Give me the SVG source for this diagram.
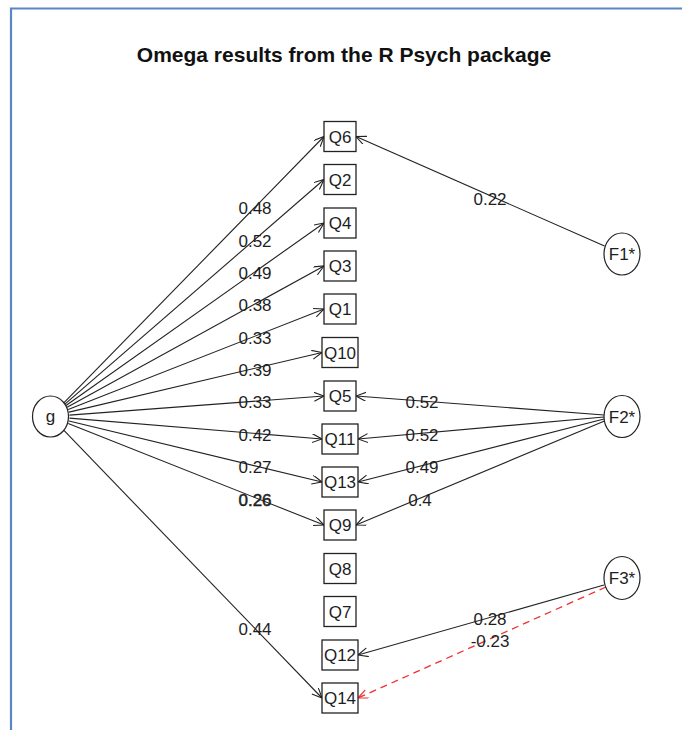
<svg xmlns="http://www.w3.org/2000/svg" width="682" height="730" viewBox="0 0 682 730">
<defs>
<style>
.t{font-family:"Liberation Sans",Arial,sans-serif;font-size:17px;fill:#1e1e1e;text-anchor:middle}
.title{font-family:"Liberation Sans",Arial,sans-serif;font-size:21px;font-weight:bold;fill:#111;text-anchor:middle}
.box{fill:#fff;stroke:#222;stroke-width:1.3}
.lat{fill:#fff;stroke:#222;stroke-width:1.2}
.ln{stroke:#222;stroke-width:1.1;fill:none;marker-end:url(#ah)}
.red{stroke:#f03030;stroke-width:1.3;fill:none;stroke-dasharray:7 5;marker-end:url(#ahr)}
</style>
<marker id="ah" markerUnits="userSpaceOnUse" markerWidth="12" markerHeight="10" refX="10" refY="4.5" orient="auto">
<path d="M0,0 L10,4.5 L0,9" fill="none" stroke="#222" stroke-width="1.1"/>
</marker>
<marker id="ahr" markerUnits="userSpaceOnUse" markerWidth="12" markerHeight="10" refX="10" refY="4.5" orient="auto">
<path d="M0,0 L10,4.5 L0,9" fill="none" stroke="#f03030" stroke-width="1.2"/>
</marker>
</defs>
<rect width="682" height="730" fill="#fff"/>
<g id="frame">
<path d="M11,730 V8.5 H682" fill="none" stroke="#5a86c6" stroke-width="2.2"/>
</g>
<text class="title" x="344" y="62">Omega results from the R Psych package</text>
<g id="connectors">
<line class="ln" x1="63.8" y1="402.9" x2="324" y2="136.5"/>
<line class="ln" x1="64.9" y1="404.1" x2="324" y2="179.5"/>
<line class="ln" x1="66" y1="405.5" x2="324" y2="223"/>
<line class="ln" x1="67.1" y1="407.3" x2="324" y2="266"/>
<line class="ln" x1="68.2" y1="409.5" x2="324" y2="309"/>
<line class="ln" x1="69" y1="412.1" x2="322" y2="352.5"/>
<line class="ln" x1="69.4" y1="415.1" x2="324" y2="396"/>
<line class="ln" x1="69.4" y1="418.1" x2="322" y2="439"/>
<line class="ln" x1="69" y1="421" x2="322" y2="482"/>
<line class="ln" x1="68.2" y1="423.5" x2="324" y2="525"/>
<line class="ln" x1="63.7" y1="430.2" x2="322" y2="698"/>
<line class="ln" x1="604.5" y1="246" x2="356" y2="136.5"/>
<line class="ln" x1="604" y1="415" x2="356" y2="396"/>
<line class="ln" x1="604" y1="417" x2="358" y2="439"/>
<line class="ln" x1="604" y1="419" x2="358" y2="482"/>
<line class="ln" x1="604.5" y1="421" x2="356" y2="525"/>
<line class="ln" x1="604" y1="585" x2="358" y2="655"/>
<line class="red" x1="606" y1="587" x2="358" y2="698"/>
<g id="labels">
<text class="t" x="255" y="214">0.48</text>
<text class="t" x="255" y="247">0.52</text>
<text class="t" x="255" y="279">0.49</text>
<text class="t" x="255" y="311">0.38</text>
<text class="t" x="255" y="344">0.33</text>
<text class="t" x="255" y="376">0.39</text>
<text class="t" x="255" y="408">0.33</text>
<text class="t" x="255" y="441">0.42</text>
<text class="t" x="255" y="473">0.27</text>
<text class="t" x="255" y="506" stroke="#1e1e1e" stroke-width="0.5">0.26</text>
<text class="t" x="255" y="635">0.44</text>
<text class="t" x="490" y="205">0.22</text>
<text class="t" x="422" y="408">0.52</text>
<text class="t" x="422" y="441">0.52</text>
<text class="t" x="422" y="473">0.49</text>
<text class="t" x="420" y="506">0.4</text>
<text class="t" x="490" y="625">0.28</text>
<text class="t" x="490" y="647">-0.23</text>
</g>
</g>
<g id="g"><ellipse class="lat" cx="50.5" cy="416.5" rx="18" ry="20.5"/><text class="t" x="50.5" y="422">g</text></g>
<g id="F1"><ellipse class="lat" cx="622" cy="254" rx="18" ry="21"/><text class="t" x="622" y="260">F1*</text></g>
<g id="F2"><ellipse class="lat" cx="622" cy="416.5" rx="18" ry="21"/><text class="t" x="622" y="422.5">F2*</text></g>
<g id="F3"><ellipse class="lat" cx="622" cy="578" rx="18" ry="21.5"/><text class="t" x="622" y="584">F3*</text></g>
<g id="Q6"><rect class="box" x="324" y="121.5" width="32" height="30"/><text class="t" x="340" y="142.5">Q6</text></g>
<g id="Q2"><rect class="box" x="324" y="164.5" width="32" height="30"/><text class="t" x="340" y="185.5">Q2</text></g>
<g id="Q4"><rect class="box" x="324" y="208" width="32" height="30"/><text class="t" x="340" y="229">Q4</text></g>
<g id="Q3"><rect class="box" x="324" y="251" width="32" height="30"/><text class="t" x="340" y="272">Q3</text></g>
<g id="Q1"><rect class="box" x="324" y="294" width="32" height="30"/><text class="t" x="340" y="315">Q1</text></g>
<g id="Q10"><rect class="box" x="322" y="337.5" width="36" height="30"/><text class="t" x="340" y="358.5">Q10</text></g>
<g id="Q5"><rect class="box" x="324" y="381" width="32" height="30"/><text class="t" x="340" y="402">Q5</text></g>
<g id="Q11"><rect class="box" x="322" y="424" width="36" height="30"/><text class="t" x="340" y="445">Q11</text></g>
<g id="Q13"><rect class="box" x="322" y="467" width="36" height="30"/><text class="t" x="340" y="488">Q13</text></g>
<g id="Q9"><rect class="box" x="324" y="510" width="32" height="30"/><text class="t" x="340" y="531">Q9</text></g>
<g id="Q8"><rect class="box" x="324" y="553.5" width="32" height="30"/><text class="t" x="340" y="574.5">Q8</text></g>
<g id="Q7"><rect class="box" x="324" y="596.5" width="32" height="30"/><text class="t" x="340" y="617.5">Q7</text></g>
<g id="Q12"><rect class="box" x="322" y="640" width="36" height="30"/><text class="t" x="340" y="661">Q12</text></g>
<g id="Q14"><rect class="box" x="322" y="683" width="36" height="30"/><text class="t" x="340" y="704">Q14</text></g>
</svg>
